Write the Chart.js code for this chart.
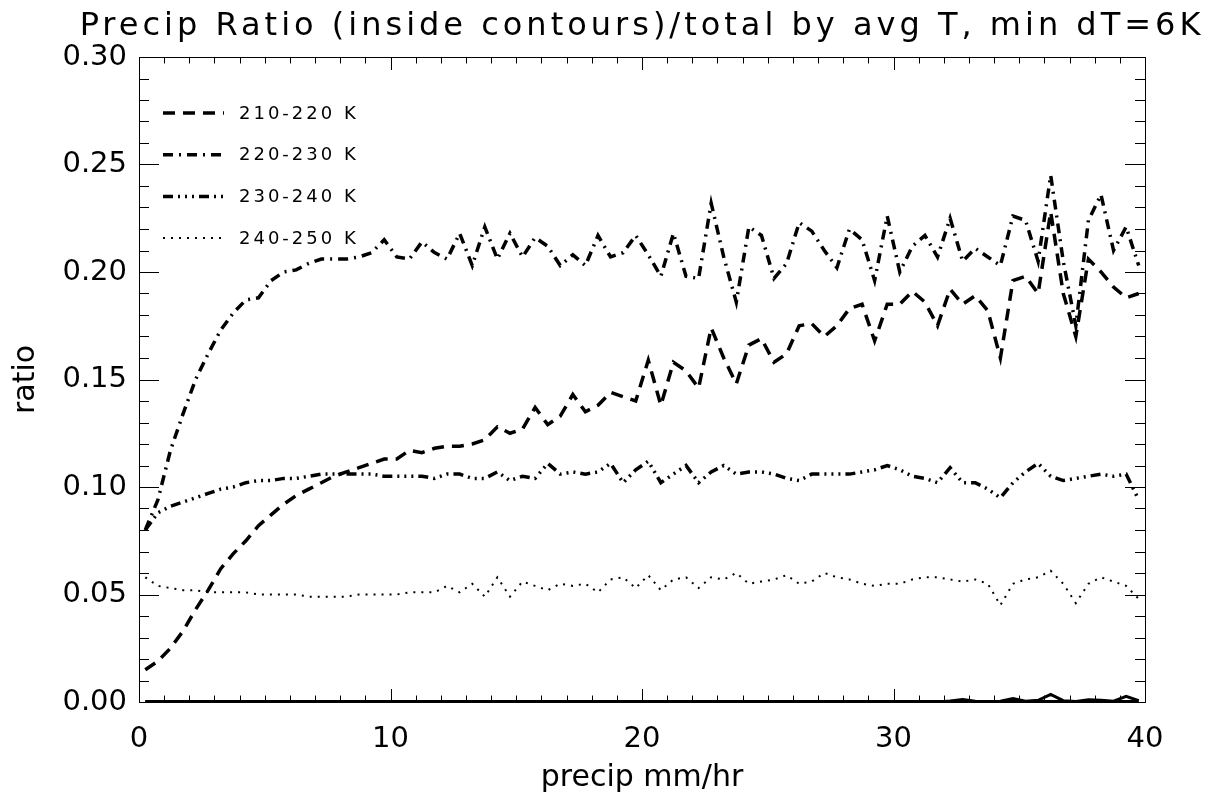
<!DOCTYPE html>
<html>
<head>
<meta charset="utf-8">
<script src="https://cdn.jsdelivr.net/npm/chart.js@4.4.1/dist/chart.umd.min.js"></script>
<style>
  html, body { margin: 0; padding: 0; background: #fff; overflow: hidden; }
  #wrap { width: 1207px; height: 796px; }
</style>
</head>
<body>
<div id="wrap"><canvas id="grafico" width="1207" height="796"></canvas></div>
<script>
// precip bins (mm/hr)
let precip = [
  0.25, 0.75, 1.25, 1.75, 2.25, 2.75, 3.25, 3.75, 4.25, 4.75,
  5.25, 5.75, 6.25, 6.75, 7.25, 7.75, 8.25, 8.75, 9.25, 9.75,
  10.25, 10.75, 11.25, 11.75, 12.25, 12.75, 13.25, 13.75, 14.25, 14.75,
  15.25, 15.75, 16.25, 16.75, 17.25, 17.75, 18.25, 18.75, 19.25, 19.75,
  20.25, 20.75, 21.25, 21.75, 22.25, 22.75, 23.25, 23.75, 24.25, 24.75,
  25.25, 25.75, 26.25, 26.75, 27.25, 27.75, 28.25, 28.75, 29.25, 29.75,
  30.25, 30.75, 31.25, 31.75, 32.25, 32.75, 33.25, 33.75, 34.25, 34.75,
  35.25, 35.75, 36.25, 36.75, 37.25, 37.75, 38.25, 38.75, 39.25, 39.75
];

let ratio210 = [
  0.015, 0.019, 0.025, 0.033, 0.043, 0.052, 0.062, 0.069, 0.075, 0.082,
  0.087, 0.092, 0.096, 0.099, 0.102, 0.105, 0.107, 0.109, 0.111, 0.113,
  0.113, 0.117, 0.116, 0.118, 0.119, 0.119, 0.120, 0.122, 0.128, 0.125,
  0.127, 0.137, 0.129, 0.133, 0.143, 0.135, 0.138, 0.144, 0.142, 0.140,
  0.159, 0.138, 0.158, 0.154, 0.146, 0.174, 0.160, 0.148, 0.166, 0.169,
  0.158, 0.162, 0.175, 0.176, 0.170, 0.175, 0.183, 0.185, 0.168, 0.185,
  0.185, 0.191, 0.186, 0.175, 0.192, 0.185, 0.189, 0.182, 0.160, 0.196,
  0.198, 0.190, 0.228, 0.190, 0.170, 0.206, 0.200, 0.193, 0.188, 0.190
];

let ratio220 = [
  0.080, 0.094, 0.117, 0.134, 0.150, 0.162, 0.173, 0.181, 0.187, 0.188,
  0.196, 0.200, 0.201, 0.204, 0.206, 0.206, 0.206, 0.207, 0.209, 0.215,
  0.207, 0.206, 0.214, 0.209, 0.206, 0.218, 0.203, 0.221, 0.206, 0.218,
  0.207, 0.216, 0.212, 0.203, 0.208, 0.203, 0.217, 0.207, 0.209, 0.217,
  0.208, 0.198, 0.218, 0.198, 0.197, 0.232, 0.207, 0.186, 0.221, 0.217,
  0.197, 0.204, 0.223, 0.219, 0.210, 0.202, 0.220, 0.215, 0.196, 0.226,
  0.200, 0.212, 0.217, 0.207, 0.225, 0.205, 0.211, 0.207, 0.203, 0.226,
  0.224, 0.205, 0.245, 0.205, 0.175, 0.224, 0.236, 0.210, 0.221, 0.203
];

let ratio230 = [
  0.080, 0.088, 0.091, 0.093, 0.095, 0.097, 0.099, 0.100, 0.102, 0.103,
  0.103, 0.104, 0.104, 0.105, 0.106, 0.106, 0.106, 0.106, 0.106, 0.105,
  0.105, 0.105, 0.105, 0.104, 0.106, 0.106, 0.104, 0.104, 0.107, 0.103,
  0.105, 0.104, 0.111, 0.106, 0.107, 0.106, 0.107, 0.111, 0.102, 0.108,
  0.112, 0.102, 0.106, 0.110, 0.102, 0.107, 0.110, 0.106, 0.107, 0.107,
  0.106, 0.104, 0.103, 0.106, 0.106, 0.106, 0.106, 0.107, 0.108, 0.110,
  0.108, 0.105, 0.104, 0.102, 0.109, 0.102, 0.102, 0.099, 0.095, 0.102,
  0.107, 0.111, 0.105, 0.103, 0.104, 0.105, 0.106, 0.105, 0.106, 0.094
];

let ratio240 = [
  0.058, 0.054, 0.053, 0.052, 0.052, 0.051, 0.051, 0.051, 0.051, 0.050,
  0.050, 0.050, 0.050, 0.049, 0.049, 0.049, 0.049, 0.050, 0.050, 0.050,
  0.050, 0.051, 0.051, 0.051, 0.054, 0.051, 0.055, 0.049, 0.058, 0.049,
  0.056, 0.054, 0.052, 0.055, 0.054, 0.055, 0.051, 0.057, 0.058, 0.053,
  0.059, 0.052, 0.057, 0.058, 0.053, 0.058, 0.057, 0.060, 0.055, 0.056,
  0.057, 0.059, 0.055, 0.056, 0.060, 0.058, 0.057, 0.055, 0.054, 0.055,
  0.055, 0.057, 0.058, 0.058, 0.057, 0.056, 0.057, 0.055, 0.045, 0.055,
  0.057, 0.058, 0.061, 0.055, 0.046, 0.055, 0.058, 0.056, 0.054, 0.048
];

// warmer bins, not in the legend, sit on zero
let ratio250 = [
  0, 0, 0, 0, 0, 0, 0, 0, 0, 0,
  0, 0, 0, 0, 0, 0, 0, 0, 0, 0,
  0, 0, 0, 0, 0, 0, 0, 0, 0, 0,
  0, 0, 0, 0, 0, 0, 0, 0, 0, 0,
  0, 0, 0, 0, 0, 0, 0, 0, 0, 0,
  0, 0, 0, 0, 0, 0, 0, 0, 0, 0,
  0, 0, 0, 0, 0.0005, 0.0012, 0.0003, 0, 0.0004, 0.0016,
  0.0004, 0.0008, 0.0035, 0.0006, 0.0002, 0.0010, 0.0008, 0.0004, 0.0026, 0.0006
];

let ratio260 = [
  0, 0, 0, 0, 0, 0, 0, 0, 0, 0,
  0, 0, 0, 0, 0, 0, 0, 0, 0, 0,
  0, 0, 0, 0, 0, 0, 0, 0, 0, 0,
  0, 0, 0, 0, 0, 0, 0, 0, 0, 0,
  0, 0, 0, 0, 0, 0, 0, 0, 0, 0,
  0, 0, 0, 0, 0, 0, 0, 0, 0, 0,
  0, 0, 0, 0, 0, 0, 0, 0, 0, 0,
  0, 0, 0, 0, 0, 0, 0, 0, 0, 0
];

let xTicks = [0, 10, 20, 30, 40];
let yTicks = [0.00, 0.05, 0.10, 0.15, 0.20, 0.25, 0.30];

let titulo = 'Precip Ratio (inside contours)/total by avg T, min dT=6K';
let fonte = 'DejaVu Sans';

function pontos(valores) {
  return precip.map((x, i) => ({x: x, y: valores[i]}));
}

function serie(label, valores, dash, largura, naLegenda) {
  return {
    label: label,
    data: pontos(valores),
    borderColor: '#000',
    backgroundColor: '#000',
    borderWidth: largura,
    borderDash: dash,
    borderCapStyle: 'butt',
    pointRadius: 0,
    tension: 0,
    fill: false,
    naLegenda: naLegenda
  };
}

// IDL style box: frame + inward ticks on all four sides
var eixosIDL = {
  id: 'eixosIDL',
  beforeDatasetsDraw(chart) {
    var ctx = chart.ctx, a = chart.chartArea;
    var sx = chart.scales.x, sy = chart.scales.y;
    ctx.save();
    ctx.strokeStyle = '#000';
    ctx.lineWidth = 1;
    ctx.strokeRect(a.left + 0.5, a.top + 0.5, a.right - a.left, a.bottom - a.top);
    ctx.beginPath();
    for (var v = 0; v <= 40; v++) {
      var px = Math.round(sx.getPixelForValue(v)) + 0.5;
      var len = xTicks.includes(v) ? 13 : 6.5;
      ctx.moveTo(px, a.bottom); ctx.lineTo(px, a.bottom - len);
      ctx.moveTo(px, a.top); ctx.lineTo(px, a.top + len);
    }
    for (var k = 0; k <= 30; k++) {
      var py = Math.round(sy.getPixelForValue(k / 100)) + 0.5;
      var len2 = (k % 5 === 0) ? 20 : 10;
      ctx.moveTo(a.left, py); ctx.lineTo(a.left + len2, py);
      ctx.moveTo(a.right, py); ctx.lineTo(a.right - len2, py);
    }
    ctx.stroke();
    ctx.restore();
  },
  afterDraw(chart) {
    var ctx = chart.ctx, a = chart.chartArea;
    ctx.save();
    // title, wide Hershey-like spacing
    ctx.fillStyle = '#000';
    ctx.font = '32px "' + fonte + '"';
    ctx.letterSpacing = '4px';
    ctx.textAlign = 'center';
    ctx.textBaseline = 'alphabetic';
    ctx.fillText(titulo, (a.left + a.right) / 2, 35);

    // legend inside the plot
    ctx.font = '18px "' + fonte + '"';
    ctx.letterSpacing = '3px';
    ctx.textAlign = 'left';
    ctx.textBaseline = 'middle';
    var linha = 0;
    chart.data.datasets.forEach(function(ds) {
      if (!ds.naLegenda) return;
      var y = a.top + 56 + linha * 41.7;
      ctx.beginPath();
      ctx.setLineDash(ds.borderDash);
      ctx.lineWidth = ds.borderWidth;
      ctx.strokeStyle = '#000';
      ctx.moveTo(a.left + 24, y);
      ctx.lineTo(a.left + 85, y);
      ctx.stroke();
      ctx.setLineDash([]);
      ctx.fillText(ds.label, a.left + 100, y + 1);
      linha++;
    });
    ctx.restore();
  }
};

var ctx = document.getElementById('grafico').getContext('2d');
var chart = new Chart(ctx, {
  type: 'line',
  data: {
    datasets: [
      serie('210-220 K', ratio210, [12, 8], 3.5, true),
      serie('220-230 K', ratio220, [10, 6, 2, 6], 3.5, true),
      serie('230-240 K', ratio230, [10, 5, 2, 5, 2, 5, 2, 5], 3.5, true),
      serie('240-250 K', ratio240, [2, 6], 2, true),
      serie('250-260 K', ratio250, [], 3, false),
      serie('260-270 K', ratio260, [], 4, false)
    ]
  },
  options: {
    responsive: false,
    animation: false,
    layout: { padding: { top: 57, right: 62, left: 0, bottom: 0 } },
    plugins: { legend: { display: false }, title: { display: false }, tooltip: { enabled: false } },
    scales: {
      x: {
        type: 'linear',
        min: 0, max: 40,
        afterBuildTicks: function(s) { s.ticks = xTicks.map(v => ({value: v})); },
        afterFit: function(s) { s.height = 94; },
        grid: { display: false, drawTicks: false, tickLength: 0 },
        border: { display: false },
        ticks: { color: '#000', font: { family: fonte, size: 29 }, padding: 20, maxRotation: 0,
                 callback: v => String(v) },
        title: { display: true, text: 'precip mm/hr', color: '#000',
                 font: { family: fonte, size: 30 }, padding: { top: 0, bottom: 0 } }
      },
      y: {
        min: 0, max: 0.30,
        afterBuildTicks: function(s) { s.ticks = yTicks.map(v => ({value: v})); },
        afterFit: function(s) { s.width = 139; },
        grid: { display: false, drawTicks: false, tickLength: 0 },
        border: { display: false },
        ticks: { color: '#000', font: { family: fonte, size: 29 }, padding: 12,
                 callback: v => v.toFixed(2) },
        title: { display: true, text: 'ratio', color: '#000',
                 font: { family: fonte, size: 30 }, padding: { top: 8, bottom: 0 } }
      }
    }
  },
  plugins: [eixosIDL]
});
</script>
</body>
</html>
